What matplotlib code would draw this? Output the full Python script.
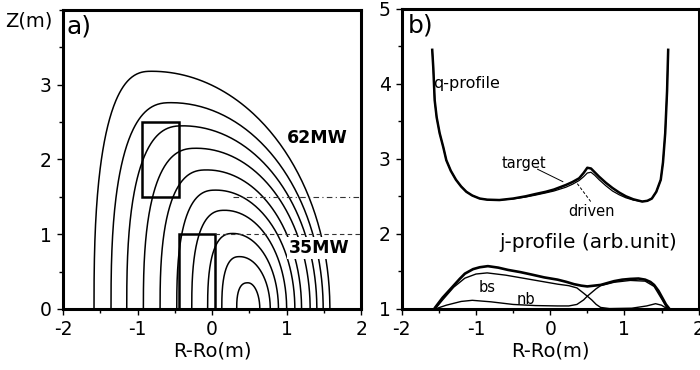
import numpy as np
import matplotlib.pyplot as plt
from matplotlib.ticker import MultipleLocator

plt.rcParams['axes.unicode_minus'] = False

# ---- panel a: flux surfaces, outer -> inner
foot_left = [-1.584, -1.356, -1.145, -0.922, -0.698, -0.474, -0.273, -0.06, 0.13, 0.33]
foot_right = [1.58, 1.49, 1.405, 1.315, 1.20, 1.11, 1.00, 0.89, 0.78, 0.64]
peak_x = [-0.81, -0.55, -0.39, -0.21, -0.07, 0.05, 0.17, 0.28, 0.37, 0.48]
peak_z = [3.18, 2.76, 2.45, 2.15, 1.86, 1.59, 1.32, 1.01, 0.70, 0.35]

boxes = [(-0.94, 1.5, 0.49, 1.0), (-0.445, 0.0, 0.485, 1.0)]  # x, z, w, h

# ---- panel b: q-profile
q_x = [-1.59, -1.575, -1.557, -1.53, -1.49, -1.44, -1.40, -1.34, -1.27, -1.20, -1.13,
       -1.05, -0.95, -0.85, -0.685, -0.5, -0.33, -0.2, -0.06, 0.05, 0.21, 0.30, 0.39,
       0.45, 0.50, 0.55, 0.60, 0.66, 0.75, 0.84, 0.93, 1.02, 1.12, 1.24, 1.31, 1.37,
       1.43, 1.49, 1.52, 1.55, 1.575, 1.59]
q_target = [4.45, 4.2, 3.78, 3.55, 3.34, 3.15, 2.98, 2.84, 2.72, 2.63, 2.56,
            2.51, 2.47, 2.455, 2.45, 2.47, 2.50, 2.53, 2.56, 2.59, 2.65, 2.69, 2.74,
            2.81, 2.88, 2.87, 2.82, 2.76, 2.68, 2.61, 2.55, 2.50, 2.46, 2.43, 2.44, 2.47,
            2.56, 2.72, 2.95, 3.34, 3.9, 4.45]
q_driven = [4.45, 4.2, 3.78, 3.55, 3.34, 3.15, 2.98, 2.84, 2.72, 2.63, 2.56,
            2.51, 2.47, 2.455, 2.45, 2.465, 2.49, 2.515, 2.545, 2.57, 2.62, 2.66, 2.71,
            2.76, 2.81, 2.82, 2.78, 2.72, 2.64, 2.57, 2.52, 2.48, 2.45, 2.43, 2.44, 2.47,
            2.56, 2.72, 2.95, 3.34, 3.9, 4.45]

# ---- panel b: j-profile (arb. unit, baseline at 1)
jt_x = [-1.55, -1.45, -1.33, -1.22, -1.15, -1.04, -0.95, -0.84, -0.70, -0.57, -0.40,
        -0.26, -0.08, 0.10, 0.22, 0.32, 0.42, 0.50, 0.59, 0.68, 0.77, 0.86, 0.97, 1.08,
        1.19, 1.28, 1.35, 1.40, 1.46, 1.51, 1.56, 1.60]
jt_y = [1.02, 1.15, 1.28, 1.40, 1.47, 1.53, 1.555, 1.57, 1.55, 1.52, 1.49,
        1.46, 1.42, 1.39, 1.36, 1.33, 1.31, 1.30, 1.31, 1.32, 1.345, 1.37, 1.39, 1.40,
        1.405, 1.39, 1.36, 1.32, 1.24, 1.15, 1.06, 1.01]
bs_x = [-1.55, -1.45, -1.30, -1.15, -1.00, -0.85, -0.60, -0.25, 0.10, 0.25, 0.36,
        0.45, 0.50, 0.56, 0.62, 0.68, 0.80, 1.10, 1.30, 1.42, 1.50, 1.58]
bs_y = [1.00, 1.12, 1.29, 1.41, 1.465, 1.48, 1.45, 1.39, 1.33, 1.31, 1.28,
        1.21, 1.17, 1.12, 1.06, 1.02, 1.005, 1.01, 1.04, 1.07, 1.05, 1.00]
nb_x = [-1.55, -1.40, -1.20, -1.05, -0.80, -0.50, -0.20, 0.10, 0.25, 0.36, 0.45,
        0.50, 0.56, 0.62, 0.68, 0.86, 1.08, 1.28, 1.40, 1.51, 1.58]
nb_y = [1.00, 1.05, 1.10, 1.115, 1.095, 1.06, 1.045, 1.04, 1.04, 1.06, 1.12,
        1.17, 1.22, 1.27, 1.31, 1.355, 1.38, 1.37, 1.30, 1.12, 1.00]


def surface(L, R, xp, h, n_left=2.6, n_right=2.0):
    # left quarter superellipse + right quarter ellipse meeting at the peak
    t = np.linspace(0, np.pi / 2, 120)
    xl = xp - (xp - L) * np.cos(t) ** (2 / n_left)
    zl = h * np.sin(t) ** (2 / n_left)
    xr = xp + (R - xp) * np.cos(t) ** (2 / n_right)
    zr = h * np.sin(t) ** (2 / n_right)
    return np.r_[xl, xr[::-1]], np.r_[zl, zr[::-1]]


def style(ax):
    for s in ax.spines.values():
        s.set_linewidth(2.2)
    ax.xaxis.set_major_locator(MultipleLocator(1))
    ax.xaxis.set_minor_locator(MultipleLocator(0.5))
    ax.yaxis.set_minor_locator(MultipleLocator(0.5))
    ax.tick_params(which='major', direction='out', length=4, width=1,
                   labelsize=13.5, pad=4)
    ax.tick_params(which='minor', direction='out', length=3, width=1)
    ax.set_xlabel('R-Ro(m)', fontsize=14, labelpad=2)


fig = plt.figure(figsize=(7, 3.7), dpi=100)
ax1 = fig.add_axes([0.09, 0.165, 0.426, 0.808])
ax2 = fig.add_axes([0.574, 0.165, 0.424, 0.812])

# panel a
for L, R, xp, h in zip(foot_left, foot_right, peak_x, peak_z):
    x, z = surface(L, R, xp, h)
    ax1.plot(x, z, color='black', lw=1.1)
for bx, bz, bw, bh in boxes:
    ax1.add_patch(plt.Rectangle((bx, bz), bw, bh, fill=False, lw=1.8,
                                edgecolor='black'))
ax1.plot([0.28, 2.0], [1.5, 1.5], color='#333333', lw=0.8, ls=(0, (5, 3, 1, 3)))
ax1.plot([0.04, 2.0], [1.0, 1.0], color='#333333', lw=0.8, ls=(0, (4, 3)))
ax1.text(1.41, 2.29, '62MW', fontsize=12.5, fontweight='bold', ha='center',
         va='center')
ax1.text(1.44, 0.82, '35MW', fontsize=12.5, fontweight='bold', ha='center',
         va='center', bbox=dict(facecolor='white', edgecolor='none', pad=1.5))
ax1.set_xlim(-2, 2)
ax1.set_ylim(0, 4)
ax1.set_yticks([0, 1, 2, 3])
style(ax1)
ax1.text(0.012, 0.985, 'a)', transform=ax1.transAxes, fontsize=18, ha='left',
         va='top')
ax1.text(-0.035, 0.995, 'Z(m)', transform=ax1.transAxes, fontsize=14,
         ha='right', va='top')

# panel b
ax2.plot(q_x, q_target, color='black', lw=1.8)
ax2.plot(q_x, q_driven, color='black', lw=0.9)
ax2.plot(jt_x, jt_y, color='black', lw=1.9)
ax2.plot(bs_x, bs_y, color='black', lw=1.0)
ax2.plot(nb_x, nb_y, color='black', lw=1.0)
ax2.plot([-0.17, 0.17], [2.86, 2.695], color='black', lw=0.7)
ax2.plot([0.546, 0.345], [2.43, 2.695], color='black', lw=0.7, ls=(0, (3, 2)))
ax2.text(-0.36, 2.94, 'target', fontsize=10.5, ha='center', va='center')
ax2.text(0.557, 2.30, 'driven', fontsize=10.5, ha='center', va='center')
ax2.text(-1.58, 4.0, 'q-profile', fontsize=11.5, ha='left', va='center')
ax2.text(-0.685, 1.885, 'j-profile (arb.unit)', fontsize=14.5, ha='left',
         va='center')
ax2.text(-0.85, 1.28, 'bs', fontsize=10.5, ha='center', va='center')
ax2.text(-0.326, 1.125, 'nb', fontsize=10.5, ha='center', va='center')
ax2.set_xlim(-2, 2)
ax2.set_ylim(1, 5)
ax2.set_yticks([1, 2, 3, 4, 5])
style(ax2)
ax2.text(0.02, 0.985, 'b)', transform=ax2.transAxes, fontsize=18, ha='left',
         va='top')

fig.savefig('out.png', dpi=100)
